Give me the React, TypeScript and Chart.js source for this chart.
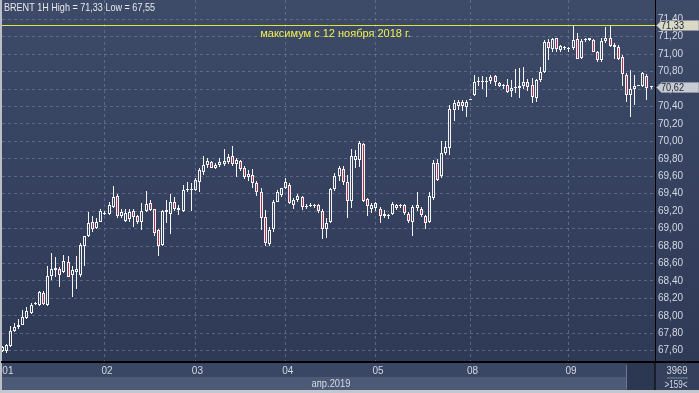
import React, { useEffect, useRef } from 'react';
import { Chart, registerables } from 'chart.js';

Chart.register(...registerables);

// ---- data (hourly candles, BRENT 1H) ----
const opens = [
  67.60, 67.60, 67.65, 67.82, 67.87, 67.90, 67.98, 68.03, 68.13, 68.12,
  68.26, 68.12, 68.46, 68.52, 68.54, 68.50, 68.62, 68.47, 68.50, 68.47,
  68.80, 68.91, 69.07, 69.01, 69.08, 69.17, 69.17, 69.25, 69.37, 69.14,
  69.09, 69.11, 69.20, 69.14, 69.07, 69.20, 69.29, 69.22, 68.98, 68.81,
  69.19, 69.17, 69.30, 69.24, 69.20, 69.44, 69.44, 69.44, 69.53, 69.65,
  69.73, 69.76, 69.69, 69.73, 69.74, 69.76, 69.83, 69.74, 69.77, 69.69,
  69.59, 69.61, 69.52, 69.42, 69.13, 68.82, 68.99, 69.31, 69.38, 69.47,
  69.50, 69.27, 69.33, 69.36, 69.26, 69.26, 69.27, 69.27, 69.20, 68.99,
  69.07, 69.45, 69.60, 69.68, 69.53, 69.32, 69.79, 69.79, 69.97, 69.34,
  69.22, 69.24, 69.23, 69.14, 69.15, 69.17, 69.24, 69.26, 69.27, 69.17,
  69.07, 69.24, 69.22, 69.14, 69.07, 69.35, 69.75, 69.60, 69.87, 69.92,
  70.36, 70.40, 70.45, 70.39, 70.48, 70.53, 70.68, 70.69, 70.68, 70.69,
  70.75, 70.67, 70.64, 70.65, 70.58, 70.61, 70.61, 70.63, 70.68, 70.65,
  70.50, 70.70, 70.80, 71.14, 71.06, 71.18, 71.05, 71.08, 71.06, 71.07,
  71.17, 70.96, 71.16, 71.16, 71.16, 71.02, 70.93, 71.15, 71.18, 71.11,
  71.08, 70.97, 70.76, 70.53, 70.60, 70.64, 70.63, 70.75, 70.62,
];
const highs = [
  67.65, 67.68, 67.88, 67.92, 67.96, 68.07, 68.10, 68.15, 68.16, 68.28,
  68.28, 68.57, 68.72, 68.67, 68.56, 68.70, 68.68, 68.57, 68.69, 68.84,
  68.92, 69.19, 69.14, 69.12, 69.22, 69.20, 69.31, 69.49, 69.40, 69.23,
  69.22, 69.22, 69.22, 69.16, 69.29, 69.43, 69.33, 69.23, 69.00, 69.21,
  69.33, 69.40, 69.36, 69.27, 69.50, 69.53, 69.52, 69.58, 69.69, 69.83,
  69.81, 69.78, 69.75, 69.81, 69.91, 69.86, 69.95, 69.81, 69.79, 69.72,
  69.67, 69.68, 69.55, 69.47, 69.21, 69.02, 69.33, 69.44, 69.47, 69.58,
  69.52, 69.35, 69.40, 69.37, 69.28, 69.29, 69.28, 69.28, 69.23, 69.12,
  69.46, 69.64, 69.72, 69.72, 69.62, 69.91, 69.90, 70.00, 69.98, 69.35,
  69.29, 69.30, 69.25, 69.21, 69.17, 69.30, 69.28, 69.28, 69.28, 69.19,
  69.27, 69.42, 69.25, 69.16, 69.42, 69.79, 69.80, 70.00, 70.00, 70.42,
  70.47, 70.47, 70.47, 70.47, 70.48, 70.76, 70.74, 70.75, 70.74, 70.76,
  70.76, 70.68, 70.66, 70.71, 70.70, 70.83, 70.84, 70.85, 70.72, 70.73,
  70.72, 70.85, 71.16, 71.17, 71.19, 71.19, 71.11, 71.09, 71.08, 71.33,
  71.24, 71.17, 71.19, 71.19, 71.17, 71.04, 71.18, 71.31, 71.33, 71.13,
  71.11, 70.99, 70.78, 70.82, 70.76, 70.65, 70.80, 70.77, 70.63,
];
const lows = [
  67.58, 67.57, 67.64, 67.81, 67.85, 67.89, 67.96, 68.02, 68.12, 68.11,
  68.12, 68.11, 68.41, 68.45, 68.33, 68.49, 68.44, 68.21, 68.31, 68.45,
  68.57, 68.90, 68.96, 68.99, 69.07, 69.15, 69.16, 69.24, 69.12, 69.12,
  69.07, 69.07, 69.02, 69.05, 68.98, 69.19, 69.20, 68.91, 68.69, 68.80,
  69.06, 68.94, 69.20, 69.15, 69.19, 69.42, 69.20, 69.43, 69.42, 69.62,
  69.69, 69.69, 69.68, 69.71, 69.72, 69.74, 69.72, 69.59, 69.66, 69.57,
  69.55, 69.46, 69.37, 68.98, 68.80, 68.80, 68.96, 69.30, 69.36, 69.45,
  69.28, 69.22, 69.30, 69.21, 69.22, 69.25, 69.24, 69.18, 68.88, 68.89,
  69.06, 69.43, 69.55, 69.50, 69.12, 69.24, 69.70, 69.71, 69.30, 69.14,
  69.18, 69.20, 69.06, 69.12, 69.11, 69.16, 69.21, 69.24, 69.16, 69.06,
  68.91, 69.20, 69.13, 69.00, 69.06, 69.33, 69.54, 69.58, 69.84, 69.84,
  70.23, 70.36, 70.35, 70.28, 70.47, 70.52, 70.63, 70.60, 70.51, 70.66,
  70.64, 70.62, 70.60, 70.55, 70.51, 70.55, 70.50, 70.60, 70.58, 70.44,
  70.45, 70.68, 70.78, 70.93, 71.02, 71.02, 71.03, 71.05, 71.03, 71.05,
  70.94, 70.94, 71.14, 71.15, 71.02, 70.91, 70.91, 71.13, 71.08, 70.95,
  70.93, 70.63, 70.45, 70.28, 70.42, 70.63, 70.62, 70.47, 70.60,
];
const closes = [
  67.64, 67.67, 67.83, 67.87, 67.90, 67.99, 68.05, 68.12, 68.14, 68.27,
  68.13, 68.46, 68.54, 68.55, 68.47, 68.63, 68.45, 68.52, 68.54, 68.81,
  68.91, 69.06, 69.00, 69.08, 69.20, 69.18, 69.27, 69.36, 69.14, 69.19,
  69.18, 69.19, 69.13, 69.08, 69.20, 69.28, 69.21, 68.95, 68.80, 69.20,
  69.21, 69.31, 69.23, 69.21, 69.44, 69.45, 69.45, 69.56, 69.67, 69.73,
  69.78, 69.70, 69.73, 69.76, 69.78, 69.82, 69.74, 69.79, 69.68, 69.59,
  69.63, 69.52, 69.42, 69.12, 68.83, 68.98, 69.31, 69.42, 69.46, 69.53,
  69.29, 69.33, 69.37, 69.25, 69.25, 69.27, 69.26, 69.20, 68.99, 69.06,
  69.45, 69.60, 69.69, 69.53, 69.32, 69.83, 69.83, 69.98, 69.32, 69.26,
  69.27, 69.29, 69.14, 69.17, 69.14, 69.28, 69.27, 69.26, 69.18, 69.09,
  69.25, 69.27, 69.15, 69.06, 69.37, 69.75, 69.56, 69.87, 69.94, 70.37,
  70.44, 70.45, 70.40, 70.45, 70.48, 70.68, 70.69, 70.68, 70.69, 70.74,
  70.68, 70.64, 70.63, 70.57, 70.61, 70.62, 70.63, 70.68, 70.62, 70.51,
  70.70, 70.80, 71.14, 71.07, 71.17, 71.06, 71.09, 71.07, 71.06, 71.16,
  70.95, 71.15, 71.17, 71.18, 71.03, 70.93, 71.15, 71.18, 71.09, 71.08,
  70.95, 70.77, 70.53, 70.60, 70.63, 70.64, 70.78, 70.61, 70.62,
];

// day separators (bar index of each day's first bar) and their labels
const dayTickIndex = [1.85, 26, 48, 70, 92, 115, 139];
const dayLabels = ['01', '02', '03', '04', '05', '08', '09'];
const monthLabel = 'апр.2019';
const priceTicks = [
  67.6, 67.8, 68.0, 68.2, 68.4, 68.6, 68.8, 69.0, 69.2, 69.4,
  69.6, 69.8, 70.0, 70.2, 70.4, 70.6, 70.8, 71.0, 71.2, 71.4,
];
const titleText = 'BRENT 1H High = 71,33 Low = 67,55';
const maxNote = 'максимум с 12 ноября 2018 г.';
const maxLevel = 71.33;
const lastPrice = 70.62;
const totalBarsText = '3969';
const visibleBarsText = '>159<';

const FONT_FAMILY = "'Liberation Sans', Arial, sans-serif";
const TXT = '#d3d9e2';
const GRID = 'rgba(120,134,162,0.55)';
const RED = '#b3304f';
const WHITE = '#f4f4f4';

const fmt = (v: number) => v.toFixed(2).replace('.', ',');

export default function App() {
  const ref = useRef<HTMLCanvasElement | null>(null);

  useEffect(() => {
    document.body.style.margin = '0';
    const canvas = ref.current;
    if (!canvas) return;

    const idx = opens.map((_, i) => i + 1);
    const bodies = idx.map((x, i) => ({ x, y: [opens[i], closes[i]] }));
    const upperWicks = idx.map((x, i) => ({ x, y: [Math.max(opens[i], closes[i]), highs[i]] }));
    const lowerWicks = idx.map((x, i) => ({ x, y: [lows[i], Math.min(opens[i], closes[i])] }));

    const decor = {
      id: 'decor',
      beforeDraw(chart: any) {
        const { ctx, width } = chart;
        ctx.save();
        const g = ctx.createLinearGradient(0, 0, 0, 362);
        g.addColorStop(0, '#3d4a68');
        g.addColorStop(1, '#2e3a56');
        ctx.fillStyle = g;
        ctx.fillRect(0, 0, width, 363);
        ctx.fillStyle = '#3a4764';
        ctx.fillRect(0, 363, 655, 14);
        ctx.fillStyle = '#4c5a78';
        ctx.fillRect(0, 377, 627, 13);
        ctx.fillStyle = '#2c3752';
        ctx.fillRect(627, 363, 28, 27);
        ctx.fillStyle = '#6a7793';
        ctx.fillRect(626, 365, 1, 24);
        ctx.fillStyle = '#34405c';
        ctx.fillRect(655, 363, 44, 27);
        ctx.fillStyle = '#c3c7ce';
        ctx.fillRect(0, 390, width, 3);
        ctx.fillStyle = '#b9bec7';
        ctx.fillRect(0, 0, 2, 390);
        ctx.restore();
      },
      beforeDatasetsDraw(chart: any) {
        // snap candle elements to the pixel grid for crisp edges
        chart.data.datasets.forEach((_: any, di: number) => {
          const meta = chart.getDatasetMeta(di);
          meta.data.forEach((el: any) => {
            el.x = Math.floor(el.x) + 0.5;
            let top = Math.round(el.y);
            let base = Math.round(el.base);
            if (di === 0 && Math.abs(top - base) < 1) base = top + 1;
            el.y = top;
            el.base = base;
          });
        });
        const { ctx, chartArea: ca, scales } = chart;
        const y = Math.round(scales.y.getPixelForValue(maxLevel)) + 0.5;
        ctx.save();
        ctx.strokeStyle = '#e2e23c';
        ctx.lineWidth = 1;
        ctx.beginPath();
        ctx.moveTo(ca.left, y);
        ctx.lineTo(ca.right, y);
        ctx.stroke();
        ctx.restore();
      },
      afterDraw(chart: any) {
        const { ctx, chartArea: ca, scales, width } = chart;
        ctx.save();
        ctx.font = `11px ${FONT_FAMILY}`;
        ctx.textBaseline = 'middle';
        // title
        ctx.fillStyle = '#e6e9ee';
        ctx.textAlign = 'left';
        ctx.fillText(titleText, 4, 8, 151);
        // note
        ctx.fillStyle = '#f2f24a';
        ctx.textAlign = 'center';
        ctx.fillText(maxNote, 335.5, 34, 156);
        // price boxes
        const box = (v: number, fill: string) => {
          const y = Math.round(scales.y.getPixelForValue(v));
          ctx.beginPath();
          ctx.moveTo(656.5, y + 0.5);
          ctx.lineTo(661.5, y - 4.5);
          ctx.lineTo(width, y - 4.5);
          ctx.lineTo(width, y + 5.5);
          ctx.lineTo(661.5, y + 5.5);
          ctx.closePath();
          ctx.fillStyle = fill;
          ctx.fill();
          ctx.strokeStyle = '#8d93a0';
          ctx.lineWidth = 1;
          ctx.stroke();
          ctx.fillStyle = '#1c2230';
          ctx.textAlign = 'left';
          ctx.font = `11px ${FONT_FAMILY}`;
          ctx.fillText(fmt(v), 661, y + 1, 23);
        };
        box(maxLevel, '#d9d9c6');
        box(lastPrice, '#c7cbd3');
        // black separators
        ctx.fillStyle = '#000';
        ctx.fillRect(ca.right - 0.5, ca.bottom, 1, 28);
        ctx.fillRect(ca.right, ca.bottom - 1, width - ca.right, 2);
        // month label
        ctx.fillStyle = TXT;
        ctx.textAlign = 'center';
        ctx.fillText(monthLabel, 331, 383.5, 39);
        // bar counters
        ctx.fillText(totalBarsText, 677, 371, 21);
        ctx.fillText(visibleBarsText, 676, 384.5, 23);
        ctx.fillStyle = '#7d8aa3';
        ctx.fillRect(667, 377.5, 21, 1);
        ctx.restore();
      },
    };

    const chart = new Chart(canvas, {
      type: 'bar',
      data: {
        datasets: [
          {
            label: 'body',
            data: bodies as any,
            backgroundColor: (c: any) => {
              const i = c.dataIndex;
              if (i === undefined) return 'rgba(0,0,0,0)';
              return closes[i] < opens[i] ? RED : 'rgba(0,0,0,0)';
            },
            borderColor: WHITE,
            borderWidth: 1,
            borderSkipped: false,
            barThickness: 3,
            minBarLength: 1,
            grouped: false,
            inflateAmount: 0,
            order: 0,
          } as any,
          {
            label: 'upper',
            data: upperWicks as any,
            backgroundColor: WHITE,
            borderWidth: 0,
            barThickness: 1,
            grouped: false,
            inflateAmount: 0,
            order: 1,
          } as any,
          {
            label: 'lower',
            data: lowerWicks as any,
            backgroundColor: WHITE,
            borderWidth: 0,
            barThickness: 1,
            grouped: false,
            inflateAmount: 0,
            order: 1,
          } as any,
        ],
      },
      options: {
        responsive: false,
        animation: false,
        devicePixelRatio: 1,
        events: [],
        layout: { padding: { left: 2, top: 0, right: 0, bottom: 0 } },
        plugins: { legend: { display: false }, tooltip: { enabled: false } },
        scales: {
          x: {
            type: 'linear',
            min: 0.915,
            max: 159.95,
            offset: false,
            afterBuildTicks: (s: any) => {
              s.ticks = dayTickIndex.map((v) => ({ value: v }));
            },
            afterFit: (s: any) => {
              s.height = 31;
              s.paddingLeft = 0;
              s.paddingRight = 0;
            },
            grid: {
              color: (c: any) => (c.index === 0 ? 'rgba(0,0,0,0)' : GRID),
              lineWidth: 1,
              drawTicks: false,
              offset: false,
            },
            border: { color: '#000', width: 2, dash: [3, 3] },
            ticks: {
              autoSkip: false,
              maxRotation: 0,
              minRotation: 0,
              align: 'start',
              labelOffset: -3.5,
              padding: 3,
              color: TXT,
              font: { family: FONT_FAMILY, size: 10 },
              callback: (_v: any, i: number) => dayLabels[i],
            },
          } as any,
          y: {
            type: 'linear',
            position: 'right',
            min: 67.47,
            max: 71.621,
            afterBuildTicks: (s: any) => {
              s.ticks = priceTicks.map((v) => ({ value: v }));
            },
            afterFit: (s: any) => {
              s.width = 44;
              s.paddingTop = 0;
              s.paddingBottom = 0;
            },
            grid: { color: GRID, lineWidth: 1, drawTicks: false },
            border: { color: '#000', width: 1, dash: [3, 3] },
            ticks: {
              autoSkip: false,
              crossAlign: 'near',
              padding: 3,
              color: TXT,
              font: { family: FONT_FAMILY, size: 10 },
              callback: (v: any) => fmt(Number(v)),
            },
          } as any,
        },
      },
      plugins: [decor],
    });

    return () => chart.destroy();
  }, []);

  return (
    <div style={{ width: 699, height: 393, position: 'relative' }}>
      <canvas ref={ref} width={699} height={393} style={{ display: 'block', width: 699, height: 393 }} />
    </div>
  );
}
